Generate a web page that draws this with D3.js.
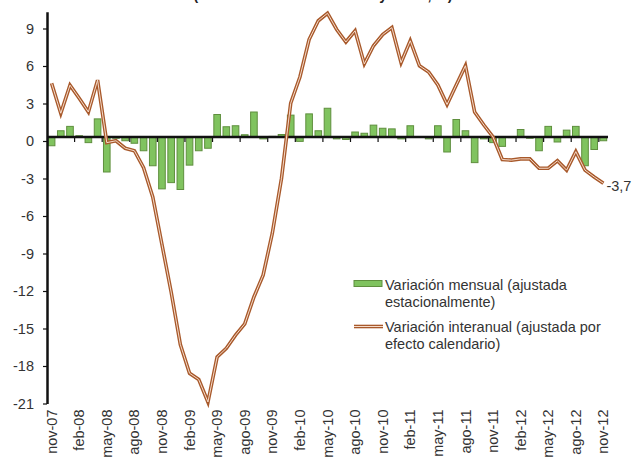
<!DOCTYPE html>
<html>
<head>
<meta charset="utf-8">
<script src="https://cdn.jsdelivr.net/npm/d3@7"></script>
<style>
  body { margin: 0; background: #fff; }
  text { font-family: "Liberation Sans", Arial, sans-serif; }
</style>
</head>
<body>
<div id="chart-container"></div>
<script>
// GLOBALS AND CONSTANTS

const width = 633;
const height = 461;
const plot = { left: 47, right: 608, zero: 137, unit: 12.5 };
const fontSize = '14.5px';

// DATA
const months = [
  'nov-07','dic-07','ene-08','feb-08','mar-08','abr-08','may-08','jun-08','jul-08','ago-08','sep-08','oct-08',
  'nov-08','dic-08','ene-09','feb-09','mar-09','abr-09','may-09','jun-09','jul-09','ago-09','sep-09','oct-09',
  'nov-09','dic-09','ene-10','feb-10','mar-10','abr-10','may-10','jun-10','jul-10','ago-10','sep-10','oct-10',
  'nov-10','dic-10','ene-11','feb-11','mar-11','abr-11','may-11','jun-11','jul-11','ago-11','sep-11','oct-11',
  'nov-11','dic-11','ene-12','feb-12','mar-12','abr-12','may-12','jun-12','jul-12','ago-12','sep-12','oct-12',
  'nov-12'
];

const mensual = [
  -0.7, 0.5, 0.85, 0.1, -0.45, 1.45, -2.8, -0.1, -0.3, -0.5,
  -1.1, -2.3, -4.15, -3.65, -4.2, -2.25, -1.1, -0.9, 1.8, 0.82,
  0.9, 0.18, 2.0, -0.15, 0.05, 0.2, 1.75, -0.35, 1.85, 0.5,
  2.3, -0.15, -0.2, 0.4, 0.3, 0.95, 0.7, 0.65, -0.15, 0.9,
  0.0, -0.15, 0.9, -1.2, 1.4, 0.5, -2.05, -0.15, -0.45, -0.75,
  -0.05, 0.6, -0.1, -1.1, 0.85, -0.4, 0.55, 0.85, -2.3, -1.0, -0.3
];

const interanual = [
  4.3, 1.9, 4.15, 3.1, 2.0, 4.55, -0.45, -0.3, -0.9, -1.1,
  -2.45, -4.8, -8.6, -12.4, -16.6, -18.9, -19.4, -21.2, -17.6, -16.9,
  -15.85, -14.95, -12.8, -11.05, -7.7, -3.3, 2.7, 4.8, 7.8, 9.3,
  9.9, 8.6, 7.6, 8.5, 5.85, 7.3, 8.2, 8.75, 5.95, 7.7,
  5.7, 5.2, 4.16, 2.6, 4.16, 5.7, 2.0, 0.96, 0.0, -1.8,
  -1.85, -1.75, -1.75, -2.5, -2.5, -1.9, -2.65, -1.17, -2.65, -3.2, -3.7
];

const yTicks = [9, 6, 3, 0, -3, -6, -9, -12, -15, -18, -21];
const xTickLabels = months.filter((d, i) => i % 3 === 0);

const titleText = '(Tasa de variación mensual y anual, %)';
const legendLabels = [
  ['Variación mensual (ajustada', 'estacionalmente)'],
  ['Variación interanual (ajustada por', 'efecto calendario)']
];
const lastLabel = '-3,7';

const colors = { bar: '#80c35f', barEdge: '#5f8f3e', line: '#a8592b', lineInner: '#f6dccb', text: '#333' };

const rows = months.map((m, i) => ({ month: m, mensual: mensual[i], interanual: interanual[i] }));

// SCALES
const yMin = -21, yMax = 10.35;
const xScale = d3.scaleBand()
  .domain(months)
  .range([plot.left, plot.right])
  .paddingInner(0.28)
  .paddingOuter(0.14);

const yScale = d3.scaleLinear()
  .domain([yMin, yMax])
  .range([plot.zero - yMin * plot.unit, plot.zero - yMax * plot.unit]);

const center = d => xScale(d) + xScale.bandwidth() / 2;
const boundary = d => xScale(d) - xScale.step() * xScale.paddingInner() / 2;

// CREATE SVG
const svg = d3.select('#chart-container')
  .append('svg')
  .attr('width', width)
  .attr('height', height);

// TITLE (CUT OFF AT TOP, AS IN THE SOURCE IMAGE)
svg.append('text')
  .attr('x', 323)
  .attr('y', 0)
  .attr('text-anchor', 'middle')
  .style('font-size', '14px')
  .style('font-weight', 'bold')
  .attr('fill', '#222')
  .text(titleText);

// BARS
svg.selectAll('.bar')
  .data(rows)
  .enter()
  .append('rect')
  .attr('class', 'bar')
  .attr('x', d => xScale(d.month))
  .attr('width', xScale.bandwidth())
  .attr('y', d => yScale(Math.max(0, d.mensual)))
  .attr('height', d => Math.abs(yScale(d.mensual) - yScale(0)))
  .attr('fill', colors.bar)
  .attr('stroke', colors.barEdge)
  .attr('stroke-width', 1);

// ZERO LINE WITH TICKS
svg.append('line')
  .attr('x1', plot.left)
  .attr('x2', plot.right)
  .attr('y1', yScale(0))
  .attr('y2', yScale(0))
  .attr('stroke', '#111')
  .attr('stroke-width', 2.5);

svg.selectAll('.xtick')
  .data(xTickLabels.slice(1))
  .enter()
  .append('line')
  .attr('class', 'xtick')
  .attr('x1', d => boundary(d))
  .attr('x2', d => boundary(d))
  .attr('y1', yScale(0))
  .attr('y2', yScale(0) + 5)
  .attr('stroke', '#111')
  .attr('stroke-width', 1.2);

// INTERANNUAL LINE (DOUBLE STROKE)
const line = d3.line()
  .x(d => center(d.month))
  .y(d => yScale(d.interanual));

svg.append('path')
  .datum(rows)
  .attr('fill', 'none')
  .attr('stroke', colors.line)
  .attr('stroke-width', 3.6)
  .attr('d', line);

svg.append('path')
  .datum(rows)
  .attr('fill', 'none')
  .attr('stroke', colors.lineInner)
  .attr('stroke-width', 1)
  .attr('d', line);

// LAST VALUE LABEL
const last = rows[rows.length - 1];
svg.append('text')
  .attr('x', center(last.month) + 3)
  .attr('y', yScale(last.interanual) + 8)
  .style('font-size', fontSize)
  .attr('fill', colors.text)
  .text(lastLabel);

// Y AXIS
const yAxis = svg.append('g')
  .attr('transform', `translate(${plot.left},4)`)
  .call(d3.axisLeft(yScale)
    .tickValues(yTicks)
    .tickSize(4)
    .tickSizeOuter(0)
    .tickPadding(9)
    .tickFormat(d => String(d)));
yAxis.select('.domain').attr('stroke', '#111').attr('stroke-width', 2.5);
yAxis.selectAll('.tick line').attr('stroke', '#111').attr('stroke-width', 1.2);
yAxis.selectAll('text')
  .style('font-size', fontSize)
  .style('font-family', '"Liberation Sans", Arial, sans-serif')
  .attr('fill', colors.text);

// X AXIS LABELS (LOW POSITION)
const xAxis = svg.append('g')
  .attr('transform', `translate(0,${yScale(yMin) + 10})`)
  .call(d3.axisBottom(xScale)
    .tickValues(xTickLabels)
    .tickSize(0)
    .tickPadding(0));
xAxis.select('.domain').remove();
xAxis.selectAll('text')
  .style('font-size', fontSize)
  .style('font-family', '"Liberation Sans", Arial, sans-serif')
  .attr('fill', colors.text)
  .style('text-anchor', 'end')
  .attr('dy', '0.35em')
  .attr('transform', 'rotate(-90)');

// LEGEND
const legend = svg.append('g').attr('transform', 'translate(354,0)');
legend.append('rect')
  .attr('x', 0).attr('y', 280.5)
  .attr('width', 28).attr('height', 6)
  .attr('fill', colors.bar)
  .attr('stroke', colors.barEdge)
  .attr('stroke-width', 1);
legend.append('line')
  .attr('x1', 0).attr('x2', 29)
  .attr('y1', 326.5).attr('y2', 326.5)
  .attr('stroke', colors.line)
  .attr('stroke-width', 3.6);
legend.append('line')
  .attr('x1', 0).attr('x2', 29)
  .attr('y1', 326.5).attr('y2', 326.5)
  .attr('stroke', colors.lineInner)
  .attr('stroke-width', 1);

const legendTops = [285, 327];
legendLabels.forEach((lines, i) => {
  lines.forEach((t, j) => {
    legend.append('text')
      .attr('x', 31)
      .attr('y', legendTops[i] + j * 16.7)
      .attr('dy', '0.35em')
      .style('font-size', fontSize)
      .attr('fill', colors.text)
      .text(t);
  });
});
</script>
</body>
</html>
